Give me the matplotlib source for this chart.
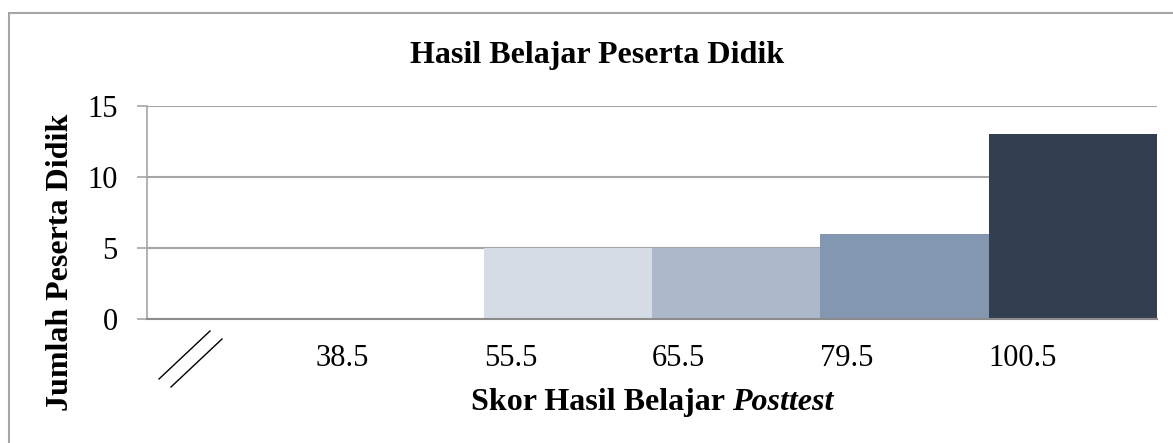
import matplotlib
matplotlib.use("Agg")
import matplotlib.pyplot as plt
from matplotlib.patches import Rectangle
from matplotlib.lines import Line2D

title = "Hasil Belajar Peserta Didik"
ylabel = "Jumlah Peserta Didik"
xlabel_bold = "Skor Hasil Belajar "
xlabel_italic = "Posttest"
tick_labels = ["38.5", "55.5", "65.5", "79.5", "100.5"]
counts = [0, 0, 5, 5, 6, 13]
colors = ["#FFFFFF", "#FFFFFF", "#D5DCE6", "#ADB9CA", "#8497B0", "#333F50"]

W, H = 1173, 443
plt.rcParams['font.family'] = ['Liberation Serif', 'DejaVu Serif']
fig = plt.figure(figsize=(W / 100, H / 100), dpi=100)

# outer frame
fig.patches.append(Rectangle((9 / W, -0.1), 1.2, 1 - 13 / H + 0.1, transform=fig.transFigure,
                             fill=False, edgecolor="#A6A6A6", linewidth=1.5))

ax = fig.add_axes([147 / W, 1 - 319 / H, (1157 - 147) / W, (319 - 106) / H])
x = list(range(len(counts)))
ax.bar(x, counts, width=1.0, color=colors, edgecolor="none", zorder=3)
ax.set_xlim(-0.5, len(counts) - 0.5)
ax.set_ylim(0, 15)
ax.set_yticks([0, 5, 10, 15])
ax.yaxis.grid(True, color="#A6A6A6", linewidth=1.5, zorder=0)
ax.tick_params(axis="y", length=7.2, width=1.2, color="#A6A6A6", labelsize=22, pad=14)
for s in ["top", "right"]:
    ax.spines[s].set_visible(False)
ax.spines["left"].set_color("#A6A6A6")
ax.spines["left"].set_linewidth(1.2)
ax.spines["bottom"].set_color("#8C8C8C")
ax.spines["bottom"].set_linewidth(1.5)
ax.spines["bottom"].set_zorder(4)

# x tick labels at class boundaries, left aligned
ax.set_xticks([i + 0.5 for i in range(len(tick_labels))])
ax.set_xticklabels(tick_labels, ha="left", fontsize=22)
ax.tick_params(axis="x", length=0, pad=18)

fig.text(597 / W, 1 - 63 / H, title, ha="center", va="baseline", fontsize=23, fontweight="bold")
fig.text(61 / W, 1 - 262 / H, ylabel, ha="center", va="center", rotation=90, fontsize=23, fontweight="bold")

# x label: bold part + bold italic part, centred on the axes
renderer = fig.canvas.get_renderer()
xc = 652
ybase = 1 - 410 / H
t1 = fig.text(0, ybase, xlabel_bold, ha="left", va="baseline", fontsize=23, fontweight="bold")
t2 = fig.text(0, ybase, xlabel_italic, ha="left", va="baseline", fontsize=23, fontweight="bold", style="italic")
w1 = t1.get_window_extent(renderer).width
w2 = t2.get_window_extent(renderer).width
x0 = xc - (w1 + w2) / 2
t1.set_x(x0 / W)
t2.set_x((x0 + w1) / W)

# axis break marks
for (xa, ya, xb, yb) in [(159, 379, 210, 331), (171, 387, 222, 339)]:
    fig.lines.append(Line2D([xa / W, xb / W], [1 - ya / H, 1 - yb / H], transform=fig.transFigure,
                            color="black", linewidth=1.0))

fig.savefig("out.png", dpi=100)
